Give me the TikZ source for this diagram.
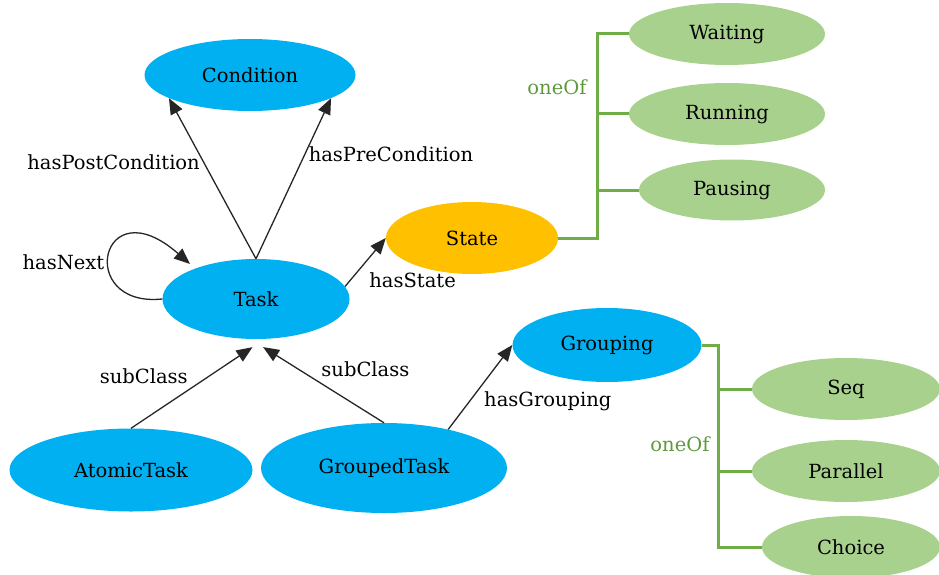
\documentclass[tikz,border=0pt]{standalone}
\usepackage{fontspec}
\setmainfont{DejaVu Serif}
\usetikzlibrary{positioning, shapes.geometric, arrows.meta}
\definecolor{classblue}{HTML}{00B0F0}
\definecolor{stateorange}{HTML}{FFC000}
\definecolor{valuegreen}{HTML}{A9D18E}
\definecolor{linegreen}{HTML}{70AD47}
\definecolor{textgreen}{HTML}{5E9A3C}
\tikzset{
  concept/.style={ellipse, fill=classblue, inner sep=0pt},
  status/.style={ellipse, fill=stateorange, inner sep=0pt},
  choice/.style={ellipse, fill=valuegreen, inner sep=0pt},
  relation/.style={line width=1.3pt, black!85},
  oneof/.style={line width=3pt, linegreen},
  oneoflabel/.style={text=textgreen}
}

\begin{document}
\begin{tikzpicture}[x=1pt, y=-1pt, font=\fontsize{19.5}{23}\selectfont,
    >={Triangle[length=16pt,width=13pt]}]
    \useasboundingbox (0,0) rectangle (939,575);

    \node [concept, minimum width=211pt, minimum height=72pt] (Condition) at (250, 75) {Condition};
    \node [concept, minimum width=187pt, minimum height=80pt] (Task) at (256, 299) {Task};
    \node [status, minimum width=172pt, minimum height=72pt] (State) at (472, 238) {State};
    \node [choice, minimum width=196pt, minimum height=62pt] (Waiting) at (727, 34) {Waiting};
    \node [choice, minimum width=196pt, minimum height=62pt] (Running) at (727, 114) {Running};
    \node [choice, minimum width=186pt, minimum height=61pt] (Pausing) at (732, 190) {Pausing};
    \node [concept, minimum width=189pt, minimum height=74pt] (Grouping) at (607, 345) {Grouping};
    \node [choice, minimum width=188pt, minimum height=62pt] (Seq) at (846, 389) {Seq};
    \node [choice, minimum width=188pt, minimum height=62pt] (Parallel) at (846, 471) {Parallel};
    \node [choice, minimum width=178pt, minimum height=62pt] (Choice) at (851, 547) {Choice};
    \node [concept, minimum width=243pt, minimum height=83pt] (AtomicTask) at (131, 470) {AtomicTask};
    \node [concept, minimum width=246pt, minimum height=90pt] (GroupedTask) at (384, 468) {GroupedTask};
    \coordinate (loopEnd) at (190, 264);

    % relations
    \draw [relation, ->] (Task.north) -- (Condition.196) node [pos=0.6, left, text=black] (postLbl) {hasPostCondition};
    \draw [relation, ->] (Task.north) -- (Condition.-16) node [pos=0.65, right, text=black] (preLbl) {hasPreCondition};
    \draw [relation, ->] (Task.west) .. controls (75, 308) and (100, 185) .. (loopEnd) node [pos=0.42, left, text=black, yshift=3pt] (nextLbl) {hasNext};
    \draw [relation, ->] (Task.8) -- (State.west) node [midway, below right, yshift=-6pt, text=black] (stateLbl) {hasState};
    \draw [relation, ->] (AtomicTask.north) -- ([yshift=-8pt]Task.265) node [midway, above left, text=black] (subLblA) {subClass};
    \draw [relation, ->] (GroupedTask.north) -- ([yshift=-8pt]Task.280) node [pos=0.55, above right, text=black] (subLblB) {subClass};
    \draw [relation, ->] (GroupedTask.31) -- (Grouping.west) node [midway, below right, text=black] (groupLbl) {hasGrouping};

    % oneOf brackets
    \draw [oneof] (State.east) -- ++(39, 0) coordinate (stateBus) |- (Waiting.west);
    \draw [oneof] (Running.west) -- (Running.west -| stateBus);
    \draw [oneof] (Pausing.west) -- (Pausing.west -| stateBus);
    \node [oneoflabel] (stateOneOf) at (557, 87) {oneOf};

    \draw [oneof] (Grouping.east) -- ++(17, 0) coordinate (groupBus) |- (Choice.west);
    \draw [oneof] (Seq.west) -- (Seq.west -| groupBus);
    \draw [oneof] (Parallel.west) -- (Parallel.west -| groupBus);
    \node [oneoflabel] (groupOneOf) at (680, 444) {oneOf};
\end{tikzpicture}
\end{document}
